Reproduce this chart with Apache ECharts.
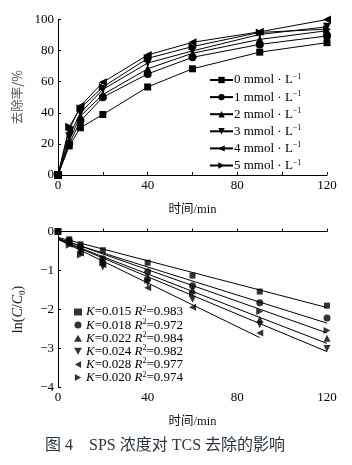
<!DOCTYPE html>
<html><head><meta charset="utf-8">
<script src="https://cdn.jsdelivr.net/npm/echarts@6/dist/echarts.min.js"></script>
<style>html,body{margin:0;padding:0;background:#fff}#c{width:352px;height:465px}</style>
</head><body><div id="c"></div>
<script>
const times = [0, 5, 10, 20, 40, 60, 90, 120];
const topNames = ['0', '1', '2', '3', '4', '5'];
const removal0 = [0, 18.7, 30.4, 38.9, 56.6, 68.3, 79.0, 85.1];
const removal1 = [0, 20.0, 34.7, 50.0, 65.0, 75.7, 84.0, 89.4];
const removal2 = [0, 22.0, 37.9, 51.7, 68.3, 78.3, 87.2, 92.8];
const removal3 = [0, 25.0, 40.0, 55.0, 72.0, 79.8, 90.4, 95.3];
const removal4 = [0, 29.0, 44.3, 59.6, 77.2, 85.3, 92.1, 100];
const removal5 = [0, 31.0, 43.0, 56.6, 75.0, 82.6, 91.7, 93.8];
const removals = [removal0, removal1, removal2, removal3, removal4, removal5];

const lnTimes = [0, 5, 10, 20, 40, 60, 90, 120];
const ln0 = [0, -0.20, -0.33, -0.48, -0.80, -1.13, -1.54, -1.90];
const ln1 = [0, -0.23, -0.40, -0.70, -1.03, -1.39, -1.83, -2.22];
const ln2 = [0, -0.25, -0.45, -0.72, -1.15, -1.49, -2.25, -2.74];
const ln3 = [0, -0.30, -0.50, -0.91, -1.32, -1.74, -2.39, -3.00];
const ln4 = [0, -0.33, -0.55, -0.85, -1.44, -1.94, -2.60];
const ln5 = [0, -0.35, -0.60, -0.80, -1.25, -1.59, -2.05, -2.54];
const lns = [ln0, ln1, ln2, ln3, ln4, ln5];
const kVals = ['0.015', '0.018', '0.022', '0.024', '0.028', '0.020'];
const r2Vals = ['0.983', '0.972', '0.984', '0.982', '0.977', '0.974'];
const fitStart = [-0.15, -0.19, -0.20, -0.20, -0.20, -0.17];
const fitEndX = [120, 120, 120, 120, 90, 120];
const fitEnd = [-1.95, -2.35, -2.87, -3.08, -2.72, -2.60];

const xTicks = [0, 40, 80, 120];

const symbols = ['rect', 'circle', 'triangle',
  'path://M0,0 L10,0 L5,9 Z',
  'path://M9,0 L0,5 L9,10 Z',
  'path://M0,0 L9,5 L0,10 Z'];
const symSizes = [7, 8, 8, 8, 8, 8];

const serif = 'Liberation Serif';
const cjk = 'Noto Sans CJK SC';

const chart = echarts.init(document.getElementById('c'));
const series = [];
removals.forEach((arr, i) => {
  series.push({
    name: topNames[i], type: 'line', xAxisIndex: 0, yAxisIndex: 0,
    data: arr.map((v, j) => [times[j], v]),
    symbol: symbols[i], symbolSize: symSizes[i],
    lineStyle: {color: '#000', width: 1}, itemStyle: {color: '#000'},
    animation: false
  });
});
const bNames = lns.map((_, i) => 'b' + i);
lns.forEach((arr, i) => {
  series.push({
    name: bNames[i], type: 'scatter', xAxisIndex: 1, yAxisIndex: 1,
    data: arr.map((v, j) => [lnTimes[j], v]),
    symbol: symbols[i], symbolSize: symSizes[i] - 1,
    itemStyle: {color: '#000'}, animation: false, z: 3
  });
  series.push({
    type: 'line', xAxisIndex: 1, yAxisIndex: 1,
    data: [[0, fitStart[i]], [fitEndX[i], fitEnd[i]]],
    symbol: 'none', lineStyle: {color: '#000', width: 1}, animation: false, z: 2
  });
});

const axisCommon = {
  axisLine: {lineStyle: {color: '#000', width: 1}},
  axisTick: {inside: true, length: 3, lineStyle: {color: '#000'}},
  splitLine: {show: false},
  axisLabel: {color: '#000', fontFamily: serif, fontSize: 13}
};

chart.setOption({
  animation: false,
  grid: [
    {left: 58, right: 25, top: 19.5, height: 155.5},
    {left: 58, right: 25, top: 231.5, height: 156}
  ],
  xAxis: [0, 1].map(g => Object.assign({}, axisCommon, {
    type: 'value', gridIndex: g, min: 0, max: 120, interval: 20,
    axisLabel: Object.assign({}, axisCommon.axisLabel, {margin: 4,
      formatter: v => xTicks.includes(v) ? String(v) : ''}),
    name: '时间/min', nameLocation: 'middle', nameGap: 28,
    nameTextStyle: {fontFamily: serif + ',' + cjk, fontSize: 12.5, color: '#111'}
  })),
  yAxis: [
    Object.assign({}, axisCommon, {
      type: 'value', gridIndex: 0, min: 0, max: 100, interval: 20,
      axisLabel: Object.assign({}, axisCommon.axisLabel, {margin: 4}),
      name: '去除率/%', nameLocation: 'middle', nameGap: 34, nameRotate: 90,
      nameTextStyle: {fontFamily: cjk, fontSize: 12.5, color: '#555'}
    }),
    Object.assign({}, axisCommon, {
      type: 'value', gridIndex: 1, min: -4, max: 0, interval: 1,
      axisLabel: Object.assign({}, axisCommon.axisLabel, {margin: 4,
        formatter: v => v < 0 ? '\u2212' + Math.abs(v) : String(v)}),
      name: '{n|ln(}{i|C}{n|/}{i|C}{s|0}{n|)}', nameLocation: 'middle', nameGap: 33, nameRotate: 90,
      nameTextStyle: {
        rich: {
          n: {fontFamily: serif, fontSize: 14, color: '#222'},
          i: {fontFamily: serif, fontSize: 14, fontStyle: 'italic', color: '#222'},
          s: {fontFamily: serif, fontSize: 9, color: '#222', verticalAlign: 'bottom', padding: [0, 0, -2, 0]}
        }
      }
    })
  ],
  legend: [
    {
      data: topNames, left: 204, top: 68, orient: 'vertical', itemGap: 3.6,
      itemWidth: 23, itemHeight: 8,
      formatter: n => '{t|' + n + ' mmol \u00b7 L}{s|\u22121}',
      textStyle: {
        fontFamily: serif, fontSize: 13, color: '#000', padding: [0, 0, 0, -4],
        rich: {
          t: {fontFamily: serif, fontSize: 13, color: '#000'},
          s: {fontFamily: serif, fontSize: 8, color: '#000', verticalAlign: 'top', padding: [0, 0, 6, 0]}
        }
      },
      selectedMode: false
    },
    {
      data: bNames, left: 69, top: 300, orient: 'vertical', itemGap: -0.4,
      itemWidth: 8, itemHeight: 7,
      formatter: n => {
        const i = +n.slice(1);
        return '{i|K}{t|=' + kVals[i] + ' }{i|R}{s|2}{t|=' + r2Vals[i] + '}';
      },
      textStyle: {
        fontFamily: serif, fontSize: 13, color: '#000', padding: [0, 0, 0, -1],
        rich: {
          t: {fontFamily: serif, fontSize: 13, color: '#000'},
          i: {fontFamily: serif, fontSize: 13, fontStyle: 'italic', color: '#000'},
          s: {fontFamily: serif, fontSize: 8, color: '#000', verticalAlign: 'top', padding: [0, 0, 6, 0]}
        }
      },
      selectedMode: false
    }
  ],
  title: {
    text: '图 4    SPS 浓度对 TCS 去除的影响',
    left: 40, top: 433,
    textStyle: {fontFamily: serif + ',' + cjk, fontSize: 16, fontWeight: 'normal', color: '#2b3440'}
  },
  series: series
});
</script></body></html>
